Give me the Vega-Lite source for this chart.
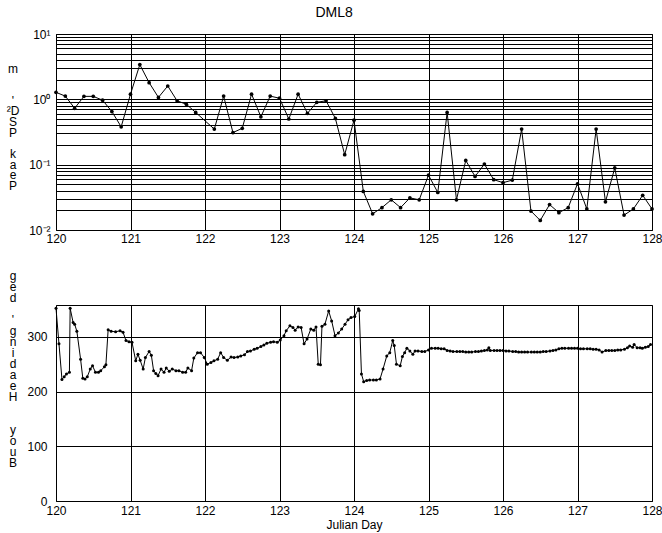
{
  "$schema": "https://vega.github.io/schema/vega-lite/v6.json",
  "autosize": {"type": "pad"},
  "padding": {"left": 5, "top": 5, "right": 5, "bottom": 5},
  "background": "white",
  "bounds": "flush",
  "spacing": 75,
  "title": {"text": "DML8", "font": "Liberation Sans", "fontSize": 14, "fontWeight": "normal", "color": "black", "offset": 8, "anchor": "middle"},
  "config": {
    "view": {"stroke": "black", "strokeWidth": 1},
    "axis": {
      "labelFont": "Liberation Sans", "labelFontSize": 12, "labelColor": "black",
      "titleFont": "Liberation Sans", "titleFontSize": 12, "titleFontWeight": "normal", "titleColor": "black",
      "gridColor": "black", "gridOpacity": 1, "gridWidth": 1, "ticks": false, "domain": false,
      "labelOverlap": false, "labelFlush": false, "labelBound": false
    }
  },
  "datasets": {
    "psd": [
      {"day": 120.0, "psd": 1.28}, {"day": 120.125, "psd": 1.12}, {"day": 120.25, "psd": 0.73}, {"day": 120.375, "psd": 1.11},
      {"day": 120.5, "psd": 1.11}, {"day": 120.625, "psd": 0.97}, {"day": 120.75, "psd": 0.65}, {"day": 120.875, "psd": 0.38},
      {"day": 121.0, "psd": 1.2}, {"day": 121.125, "psd": 3.4}, {"day": 121.25, "psd": 1.8}, {"day": 121.375, "psd": 1.07},
      {"day": 121.5, "psd": 1.6}, {"day": 121.625, "psd": 0.95}, {"day": 121.75, "psd": 0.84}, {"day": 121.875, "psd": 0.63},
      {"day": 122.125, "psd": 0.35}, {"day": 122.25, "psd": 1.12}, {"day": 122.375, "psd": 0.31}, {"day": 122.5, "psd": 0.36},
      {"day": 122.625, "psd": 1.2}, {"day": 122.75, "psd": 0.54}, {"day": 122.875, "psd": 1.12}, {"day": 123.0, "psd": 1.04},
      {"day": 123.125, "psd": 0.5}, {"day": 123.25, "psd": 1.2}, {"day": 123.375, "psd": 0.61}, {"day": 123.5, "psd": 0.9},
      {"day": 123.625, "psd": 0.95}, {"day": 123.75, "psd": 0.51}, {"day": 123.875, "psd": 0.142}, {"day": 124.0, "psd": 0.48},
      {"day": 124.125, "psd": 0.039}, {"day": 124.25, "psd": 0.0177}, {"day": 124.375, "psd": 0.022}, {"day": 124.5, "psd": 0.029},
      {"day": 124.625, "psd": 0.022}, {"day": 124.75, "psd": 0.031}, {"day": 124.875, "psd": 0.029}, {"day": 125.0, "psd": 0.069},
      {"day": 125.125, "psd": 0.0375}, {"day": 125.25, "psd": 0.63}, {"day": 125.375, "psd": 0.029}, {"day": 125.5, "psd": 0.116},
      {"day": 125.625, "psd": 0.066}, {"day": 125.75, "psd": 0.102}, {"day": 125.875, "psd": 0.059}, {"day": 126.0, "psd": 0.053},
      {"day": 126.125, "psd": 0.058}, {"day": 126.25, "psd": 0.35}, {"day": 126.375, "psd": 0.0195}, {"day": 126.5, "psd": 0.014},
      {"day": 126.625, "psd": 0.0245}, {"day": 126.75, "psd": 0.0184}, {"day": 126.875, "psd": 0.022}, {"day": 127.0, "psd": 0.051},
      {"day": 127.125, "psd": 0.021}, {"day": 127.25, "psd": 0.35}, {"day": 127.375, "psd": 0.027}, {"day": 127.5, "psd": 0.089},
      {"day": 127.625, "psd": 0.0169}, {"day": 127.75, "psd": 0.021}, {"day": 127.875, "psd": 0.034}, {"day": 128.0, "psd": 0.021}
    ],
    "heading": [
      {"day": 120.0, "h": 352}, {"day": 120.04, "h": 287}, {"day": 120.08, "h": 222}, {"day": 120.11, "h": 227}, {"day": 120.14, "h": 232},
      {"day": 120.18, "h": 235}, {"day": 120.19, "h": 352}, {"day": 120.23, "h": 326}, {"day": 120.25, "h": 323}, {"day": 120.28, "h": 310},
      {"day": 120.33, "h": 259}, {"day": 120.36, "h": 224}, {"day": 120.39, "h": 223}, {"day": 120.42, "h": 227}, {"day": 120.46, "h": 241},
      {"day": 120.49, "h": 247}, {"day": 120.53, "h": 235}, {"day": 120.57, "h": 235}, {"day": 120.6, "h": 238}, {"day": 120.65, "h": 245},
      {"day": 120.67, "h": 249}, {"day": 120.7, "h": 313}, {"day": 120.74, "h": 310}, {"day": 120.8, "h": 309}, {"day": 120.86, "h": 311},
      {"day": 120.9, "h": 308}, {"day": 120.94, "h": 293}, {"day": 120.98, "h": 291}, {"day": 121.02, "h": 290}, {"day": 121.07, "h": 256},
      {"day": 121.1, "h": 268}, {"day": 121.13, "h": 257}, {"day": 121.17, "h": 241}, {"day": 121.2, "h": 262}, {"day": 121.25, "h": 273},
      {"day": 121.28, "h": 266}, {"day": 121.31, "h": 238}, {"day": 121.34, "h": 233}, {"day": 121.37, "h": 229}, {"day": 121.41, "h": 241},
      {"day": 121.45, "h": 235}, {"day": 121.48, "h": 243}, {"day": 121.52, "h": 237}, {"day": 121.56, "h": 241}, {"day": 121.61, "h": 238},
      {"day": 121.65, "h": 238}, {"day": 121.7, "h": 235}, {"day": 121.74, "h": 235}, {"day": 121.77, "h": 243}, {"day": 121.82, "h": 238},
      {"day": 121.85, "h": 261}, {"day": 121.9, "h": 271}, {"day": 121.94, "h": 271}, {"day": 121.99, "h": 262}, {"day": 122.03, "h": 250},
      {"day": 122.08, "h": 253}, {"day": 122.12, "h": 256}, {"day": 122.17, "h": 259}, {"day": 122.21, "h": 271}, {"day": 122.25, "h": 262},
      {"day": 122.3, "h": 257}, {"day": 122.35, "h": 263}, {"day": 122.39, "h": 262}, {"day": 122.44, "h": 263}, {"day": 122.48, "h": 265},
      {"day": 122.53, "h": 267}, {"day": 122.57, "h": 273}, {"day": 122.61, "h": 274}, {"day": 122.66, "h": 277}, {"day": 122.7, "h": 279},
      {"day": 122.75, "h": 282}, {"day": 122.79, "h": 285}, {"day": 122.83, "h": 288}, {"day": 122.88, "h": 290}, {"day": 122.92, "h": 291},
      {"day": 122.97, "h": 290}, {"day": 123.01, "h": 294}, {"day": 123.06, "h": 302}, {"day": 123.09, "h": 311}, {"day": 123.14, "h": 320},
      {"day": 123.18, "h": 317}, {"day": 123.21, "h": 312}, {"day": 123.25, "h": 318}, {"day": 123.29, "h": 317}, {"day": 123.33, "h": 287},
      {"day": 123.37, "h": 296}, {"day": 123.42, "h": 314}, {"day": 123.46, "h": 312}, {"day": 123.49, "h": 318}, {"day": 123.52, "h": 250},
      {"day": 123.55, "h": 249}, {"day": 123.57, "h": 319}, {"day": 123.61, "h": 323}, {"day": 123.66, "h": 347}, {"day": 123.7, "h": 329},
      {"day": 123.745, "h": 302}, {"day": 123.79, "h": 307}, {"day": 123.835, "h": 314}, {"day": 123.88, "h": 323}, {"day": 123.92, "h": 331},
      {"day": 123.96, "h": 335}, {"day": 124.01, "h": 337}, {"day": 124.06, "h": 351}, {"day": 124.07, "h": 348}, {"day": 124.1, "h": 232},
      {"day": 124.13, "h": 218}, {"day": 124.17, "h": 220}, {"day": 124.21, "h": 221}, {"day": 124.26, "h": 221}, {"day": 124.3, "h": 221},
      {"day": 124.35, "h": 223}, {"day": 124.39, "h": 241}, {"day": 124.44, "h": 265}, {"day": 124.48, "h": 271}, {"day": 124.52, "h": 293},
      {"day": 124.54, "h": 284}, {"day": 124.57, "h": 250}, {"day": 124.62, "h": 247}, {"day": 124.65, "h": 264}, {"day": 124.68, "h": 271},
      {"day": 124.71, "h": 279}, {"day": 124.75, "h": 274}, {"day": 124.79, "h": 268}, {"day": 124.82, "h": 274}, {"day": 124.86, "h": 274},
      {"day": 124.91, "h": 273}, {"day": 124.95, "h": 273}, {"day": 125.0, "h": 276}, {"day": 125.04, "h": 279}, {"day": 125.09, "h": 279},
      {"day": 125.13, "h": 279}, {"day": 125.17, "h": 278}, {"day": 125.21, "h": 278}, {"day": 125.25, "h": 275}, {"day": 125.29, "h": 274},
      {"day": 125.33, "h": 273}, {"day": 125.38, "h": 273}, {"day": 125.42, "h": 273}, {"day": 125.46, "h": 273}, {"day": 125.5, "h": 272},
      {"day": 125.54, "h": 272}, {"day": 125.58, "h": 272}, {"day": 125.63, "h": 273}, {"day": 125.67, "h": 273}, {"day": 125.71, "h": 274},
      {"day": 125.75, "h": 275}, {"day": 125.79, "h": 276}, {"day": 125.81, "h": 280}, {"day": 125.83, "h": 275}, {"day": 125.88, "h": 275},
      {"day": 125.92, "h": 275}, {"day": 125.96, "h": 275}, {"day": 126.0, "h": 275}, {"day": 126.04, "h": 274}, {"day": 126.08, "h": 274},
      {"day": 126.13, "h": 273}, {"day": 126.17, "h": 273}, {"day": 126.21, "h": 272}, {"day": 126.25, "h": 272}, {"day": 126.29, "h": 272},
      {"day": 126.33, "h": 272}, {"day": 126.38, "h": 272}, {"day": 126.42, "h": 272}, {"day": 126.46, "h": 272}, {"day": 126.5, "h": 272},
      {"day": 126.54, "h": 273}, {"day": 126.58, "h": 273}, {"day": 126.63, "h": 274}, {"day": 126.67, "h": 275}, {"day": 126.71, "h": 276},
      {"day": 126.75, "h": 278}, {"day": 126.79, "h": 279}, {"day": 126.83, "h": 279}, {"day": 126.88, "h": 279}, {"day": 126.92, "h": 279},
      {"day": 126.96, "h": 279}, {"day": 127.0, "h": 279}, {"day": 127.04, "h": 278}, {"day": 127.08, "h": 278}, {"day": 127.13, "h": 278},
      {"day": 127.17, "h": 278}, {"day": 127.21, "h": 277}, {"day": 127.25, "h": 277}, {"day": 127.29, "h": 276}, {"day": 127.33, "h": 272},
      {"day": 127.38, "h": 275}, {"day": 127.42, "h": 275}, {"day": 127.46, "h": 275}, {"day": 127.5, "h": 275}, {"day": 127.54, "h": 276},
      {"day": 127.58, "h": 276}, {"day": 127.63, "h": 277}, {"day": 127.67, "h": 280}, {"day": 127.7, "h": 283}, {"day": 127.74, "h": 281},
      {"day": 127.76, "h": 286}, {"day": 127.8, "h": 280}, {"day": 127.84, "h": 280}, {"day": 127.87, "h": 279}, {"day": 127.91, "h": 281},
      {"day": 127.95, "h": 282}, {"day": 127.98, "h": 286}
    ]
  },
  "vconcat": [
    {
      "width": 596,
      "height": 196,
      "data": {"name": "psd"},
      "encoding": {
        "x": {"field": "day", "type": "quantitative", "scale": {"domain": [120, 128], "nice": false, "zero": false},
          "axis": {"values": [120, 121, 122, 123, 124, 125, 126, 127, 128], "format": "d", "title": null, "grid": true, "labelPadding": 3}},
        "y": {"field": "psd", "type": "quantitative", "scale": {"type": "log", "domain": [0.01, 10], "nice": false},
          "axis": {
            "values": [0.01, 0.02, 0.03, 0.04, 0.05, 0.06, 0.07, 0.08, 0.09, 0.1, 0.2, 0.3, 0.4, 0.5, 0.6, 0.7, 0.8, 0.9, 1, 2, 3, 4, 5, 6, 7, 8, 9, 10],
            "labelExpr": "datum.value == 10 ? '10¹' : datum.value == 1 ? '10⁰' : datum.value == 0.1 ? '10⁻¹' : datum.value == 0.01 ? '10⁻²' : ''",
            "grid": true, "labelPadding": 6,
            "title": ["m", "\u2800", "\u2800", "'", "²D", "S", "P", "\u2800", "k", "a", "e", "P"],
            "titleAngle": 0, "titleAlign": "center", "titleBaseline": "middle", "titleX": -43.5, "titleY": 34, "titleLineHeight": 10.7
          }}
      },
      "layer": [
        {"mark": {"type": "line", "color": "black", "strokeWidth": 1}},
        {"mark": {"type": "point", "filled": true, "color": "black", "size": 14, "opacity": 1}}
      ]
    },
    {
      "width": 596,
      "height": 196,
      "data": {"name": "heading"},
      "encoding": {
        "x": {"field": "day", "type": "quantitative", "scale": {"domain": [120, 128], "nice": false, "zero": false},
          "axis": {"values": [120, 121, 122, 123, 124, 125, 126, 127, 128], "format": "d", "title": "Julian Day", "grid": true, "labelPadding": 4, "titlePadding": 3}},
        "y": {"field": "h", "type": "quantitative", "scale": {"domain": [0, 358], "nice": false},
          "axis": {
            "values": [0, 100, 200, 300], "grid": true, "labelPadding": 9,
            "title": ["g", "e", "d", "\u2800", "'", "g", "n", "i", "d", "a", "e", "H", "\u2800", "\u2800", "y", "o", "u", "B"],
            "titleAngle": 0, "titleAlign": "center", "titleBaseline": "middle", "titleX": -43.5, "titleY": -30, "titleLineHeight": 11
          }}
      },
      "layer": [
        {"mark": {"type": "line", "color": "black", "strokeWidth": 1}},
        {"mark": {"type": "point", "filled": true, "color": "black", "size": 9, "opacity": 1}}
      ]
    }
  ]
}
